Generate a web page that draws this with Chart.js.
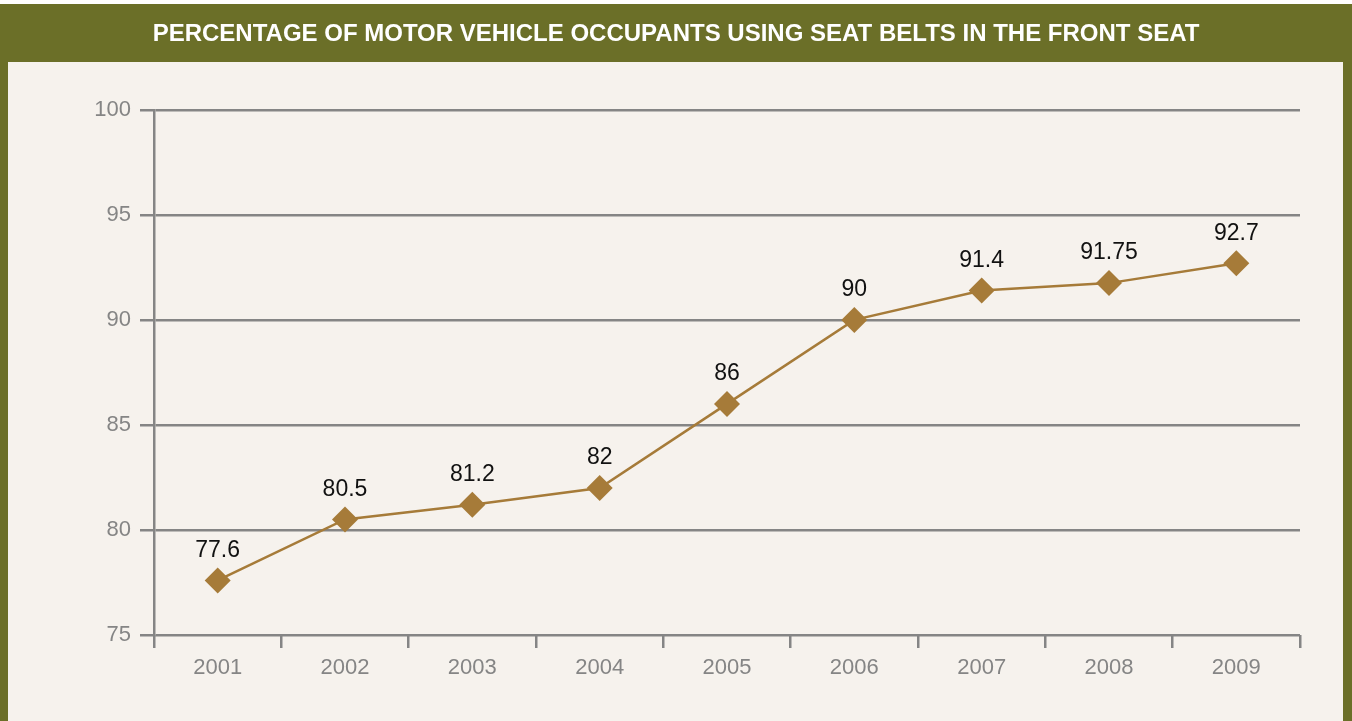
<!DOCTYPE html>
<html>
<head>
<meta charset="utf-8">
<script src="https://cdn.jsdelivr.net/npm/chart.js@4"></script>
<style>
  html, body { margin: 0; padding: 0; background: #ffffff; }
  #wrap { width: 1352px; height: 721px; position: relative; }
</style>
</head>
<body>
<div id="wrap"><canvas id="myChart" width="1352" height="721"></canvas></div>
<script>
// Chart data
const years = ['2001', '2002', '2003', '2004', '2005', '2006', '2007', '2008', '2009'];
const beltUse = [77.6, 80.5, 81.2, 82, 86, 90, 91.4, 91.75, 92.7];
const yTicks = [75, 80, 85, 90, 95, 100];

const olive = '#6b6f28';
const panel = '#f6f2ed';
const gold = '#a67b39';
const gray = '#858585';
const font = "'Liberation Sans Narrow', 'Liberation Sans', Arial, sans-serif";

// Draws the olive frame and the light panel behind the chart
const framePlugin = {
    id: 'frame',
    beforeDraw(chart) {
        const c = chart.ctx;
        c.save();
        c.fillStyle = '#ffffff';
        c.fillRect(0, 0, chart.width, chart.height);
        c.fillStyle = olive;
        c.fillRect(0, 4, chart.width, chart.height - 4);
        c.fillStyle = panel;
        c.fillRect(8, 62, chart.width - 17, chart.height - 62);
        c.restore();
    }
};

// Writes the value above each point
const valueLabels = {
    id: 'valueLabels',
    afterDatasetsDraw(chart) {
        const c = chart.ctx;
        const meta = chart.getDatasetMeta(0);
        c.save();
        c.fillStyle = '#111111';
        c.font = '23px ' + font;
        c.textAlign = 'center';
        c.textBaseline = 'middle';
        meta.data.forEach((pt, i) => {
            c.fillText(String(beltUse[i]), pt.x, pt.y - 30);
        });
        c.restore();
    }
};

const ctx = document.getElementById('myChart').getContext('2d');
const chart = new Chart(ctx, {
    type: 'line',
    data: {
        labels: years,
        datasets: [{
            data: beltUse,
            borderColor: gold,
            borderWidth: 2.5,
            backgroundColor: gold,
            pointStyle: 'rectRot',
            pointRadius: 13,
            pointBorderWidth: 0,
            pointBackgroundColor: gold,
            tension: 0
        }]
    },
    options: {
        responsive: false,
        animation: false,
        layout: { padding: 0 },
        plugins: {
            legend: { display: false },
            tooltip: { enabled: false },
            title: {
                display: true,
                text: 'PERCENTAGE OF MOTOR VEHICLE OCCUPANTS USING SEAT BELTS IN THE FRONT SEAT',
                color: '#ffffff',
                font: { family: font, size: 24, weight: 'bold', lineHeight: 1.2 },
                padding: { top: 20, bottom: 61 }
            }
        },
        scales: {
            x: {
                offset: true,
                grid: {
                    offset: true,
                    drawOnChartArea: false,
                    drawTicks: true,
                    tickLength: 13,
                    color: gray,
                    lineWidth: 2.5
                },
                border: { display: false },
                ticks: {
                    color: gray,
                    font: { family: font, size: 22 },
                    padding: 7
                },
                afterFit(scale) { scale.height = 86; }
            },
            y: {
                min: 75,
                max: 100,
                afterBuildTicks(scale) {
                    scale.ticks = yTicks.map(v => ({ value: v }));
                },
                grid: {
                    color: gray,
                    lineWidth: 2.5,
                    tickLength: 14
                },
                border: { display: true, color: gray, width: 2.5 },
                ticks: {
                    color: gray,
                    font: { family: font, size: 22 },
                    padding: 9
                },
                afterFit(scale) { scale.width = 154; }
            },
            // empty right-hand axis that only reserves the right margin
            yRight: {
                position: 'right',
                min: 75,
                max: 100,
                grid: { display: false },
                border: { display: false },
                ticks: { display: false },
                afterFit(scale) { scale.width = 52; }
            }
        }
    },
    plugins: [framePlugin, valueLabels]
});
</script>
</body>
</html>
